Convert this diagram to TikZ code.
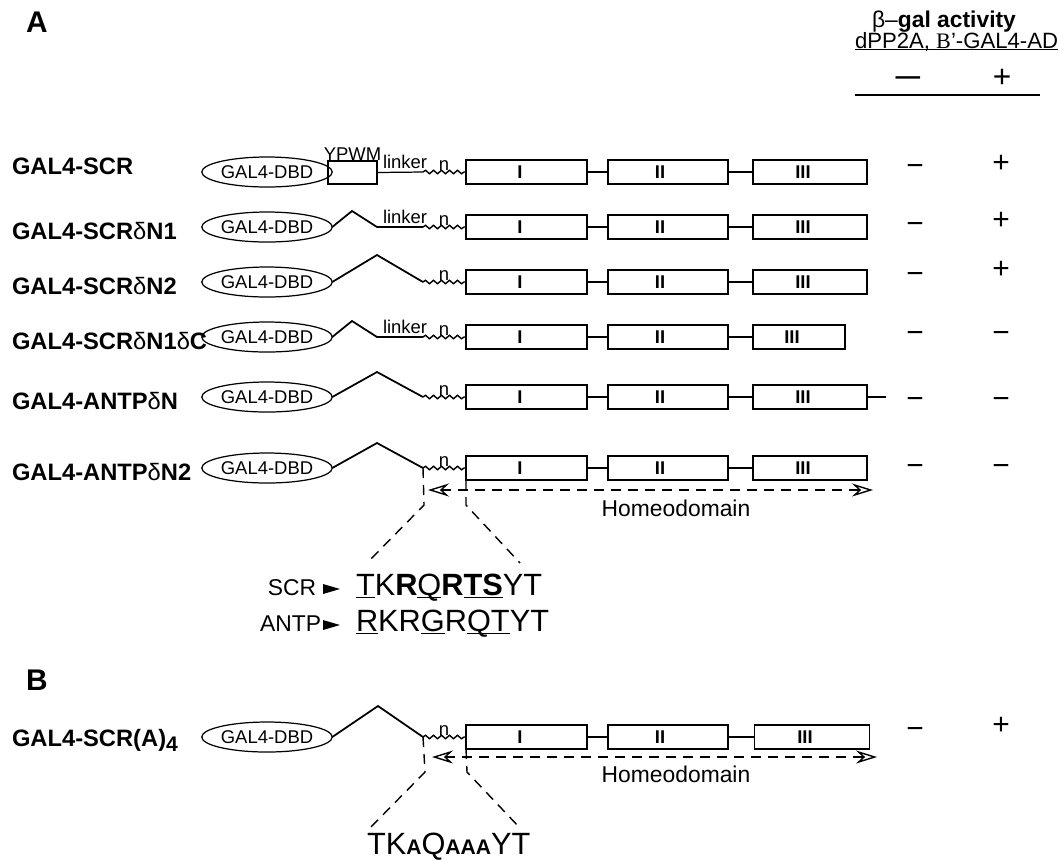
\documentclass[tikz,border=0pt]{standalone}
\usepackage{fontspec}
\setmainfont{Liberation Sans}
\newfontfamily\serifB{Liberation Serif}
\usetikzlibrary{arrows.meta,decorations.pathmorphing,shapes.geometric}
\newcommand\myfs[1]{\fontsize{#1}{#1}\selectfont}
\newcommand\myul[2][1.8pt]{\setbox0\hbox{#2}\rlap{\rule[-#1]{\wd0}{0.8pt}}#2}
\tikzset{
  every node/.style={inner sep=0pt, outer sep=0pt},
  dbd/.style={draw, ellipse, minimum width=2.4cm, minimum height=0.6cm, line width=0.7pt, font=\myfs{10.5}},
  hbox/.style={draw, rectangle, minimum height=0.48cm, line width=0.8pt},
  boxlab/.style={font=\bfseries\myfs{10.5}},
  rowlab/.style={anchor=base west, font=\bfseries\myfs{13.5}},
  smalltxt/.style={anchor=base west, font=\myfs{10.5}},
  nlab/.style={anchor=base, font=\myfs{10.5}},
  thinline/.style={line width=0.7pt},
  peakline/.style={line width=1pt},
  wave/.style={line width=0.8pt, decorate, decoration={snake, amplitude=0.035cm, segment length=0.16cm}},
  dashline/.style={line width=0.8pt, dash pattern=on 0.2cm off 0.14cm},
  hdtip/.tip={Stealth[open, length=0.42cm, width=0.26cm, inset=0.14cm, line width=0.8pt]},
  hdarrow/.style={dashline, hdtip-hdtip},
  pm/.style={anchor=base, font=\myfs{17}},
}
\newcommand\hdrow[4]{%
  \node[dbd] (#1e) at (267,#2) {GAL4-DBD};
  \node[hbox, minimum width=2.42cm] (#1I) at (526.5,#2) {};
  \node[boxlab] (#1Il) at ([xshift=-0.13cm]#1I.center) {I};
  \node[hbox, minimum width=2.40cm] (#1II) at (668,#2) {};
  \node[boxlab] (#1IIl) at ([xshift=-0.16cm]#1II.center) {II};
  \node[hbox, minimum width=#4] (#1III) at (#3,#2) {};
  \node[boxlab] (#1IIIl) at ([xshift=-0.14cm]#1III.center) {III};
  \draw[thinline] (#1I) -- (#1II);
  \draw[thinline] (#1II) -- (#1III);
  \coordinate (#1w) at (423,#2);
  \draw[wave] (#1w) -- (#1I.west);
  \node[nlab] (#1n) at (444,#2-2) {n};
}
\begin{document}
\begin{tikzpicture}[x=0.02cm, y=-0.02cm]
\useasboundingbox (0,0) rectangle (1060,860);
\fill[white] (0,0) rectangle (1060,860);

% panel labels
\node[font=\bfseries\myfs{17}] (labA) at (37,22) {A};
\node[font=\bfseries\myfs{17}] (labB) at (37,680) {B};

% header
\node[font=\myfs{13}] (hact) at (944,22) {β–\textbf{gal activity}};
\node[anchor=base, font=\myfs{12.6}] (hcons) at (956.5,48) {\myul[1.4pt]{dPP2A, {\serifB B}'-GAL4-AD}};
\node[anchor=base, font=\bfseries\myfs{14}] (hminus) at (908,84) {—};
\node[anchor=base, font=\myfs{18}] (hplus) at (1002,87) {+};
\coordinate (hl1) at (855,95);
\coordinate (hl2) at (1040,95);
\draw[thinline] (hl1) -- (hl2);

% row labels
\node[rowlab] (l1) at (12,174.5) {GAL4-SCR};
\node[rowlab] (l2) at (12,239.5) {GAL4-SCR{\mdseries δ}N1};
\node[rowlab] (l3) at (12,294.5) {GAL4-SCR{\mdseries δ}N2};
\node[rowlab] (l4) at (12,349.5) {GAL4-SCR{\mdseries δ}N1{\mdseries δ}C};
\node[rowlab] (l5) at (12,409.5) {GAL4-ANTP{\mdseries δ}N};
\node[rowlab] (l6) at (12,480.5) {GAL4-ANTP{\mdseries δ}N2};
\node[rowlab] (l7) at (12,746) {GAL4-SCR(A)\raisebox{-3pt}{\myfs{12}4}};

% rows
\hdrow{r1}{172}{810}{2.28cm}
\hdrow{r2}{227}{810}{2.28cm}
\hdrow{r3}{282}{810}{2.28cm}
\hdrow{r4}{337}{799}{1.84cm}
\hdrow{r5}{397}{810}{2.28cm}
\hdrow{r6}{468}{810}{2.28cm}
\hdrow{r7}{737}{812}{2.30cm}

% row 1: YPWM box
\node[hbox, minimum width=0.98cm, minimum height=0.46cm] (r1y) at (352.5,172.5) {};
\node[anchor=base, font=\myfs{10.5}] (r1yl) at (352.5,160) {YPWM};
\draw[thinline] (r1y.east) -- (r1w);
\node[smalltxt] (r1k) at (383,168) {linker};

% deletion peaks
\draw[peakline] (r2e.east) -- (352,211) -- (377,227) -- (r2w);
\node[smalltxt] (r2k) at (383,223) {linker};
\draw[peakline] (r3e.east) -- (377,255) -- (r3w);
\draw[peakline] (r4e.east) -- (352,321) -- (377,337) -- (r4w);
\node[smalltxt] (r4k) at (383,333) {linker};
\draw[peakline] (r5e.east) -- (377,372) -- (r5w);
\coordinate (r5end) at (886,397);
\draw[thinline] (r5III.east) -- (r5end);
\draw[peakline] (r6e.east) -- (377,443) -- (r6w);
\draw[peakline] (r7e.east) -- (378,706) -- (r7w);

% homeodomain A
\coordinate (ha1) at (428,490);
\coordinate (ha2) at (873,490);
\draw[hdarrow] (ha1) -- (ha2);
\node[font=\myfs{13}] (hdA) at (676,508) {Homeodomain};
\coordinate (da1) at (424,505);
\coordinate (da2) at (367,563);
\coordinate (db1) at (466,505);
\coordinate (db2) at (520,563);
\draw[dashline] (r6w) -- (da1) -- (da2);
\draw[dashline] (r6I.south west) -- (db1) -- (db2);

% sequences A
\node[anchor=base east, font=\myfs{13}] (scrl) at (316,595) {SCR};
\fill (323,584) -- (340,589) -- (323,594) -- cycle;
\node[anchor=base west, font=\myfs{17.5}] (scrs) at (356,595) {\myul{T}K\textbf{R}\myul{Q}\textbf{R\myul{TS}}YT};
\node[anchor=base east, font=\myfs{13}] (antpl) at (321,631) {ANTP};
\fill (323,620) -- (340,625) -- (323,630) -- cycle;
\node[anchor=base west, font=\myfs{17.5}] (antps) at (356,631) {\myul{R}KR\myul{G}R\myul{QT}YT};

% homeodomain B
\coordinate (hb1) at (432,757);
\coordinate (hb2) at (877,757);
\draw[hdarrow] (hb1) -- (hb2);
\node[font=\myfs{13}] (hdB) at (676,774) {Homeodomain};
\coordinate (dc1) at (425,772);
\coordinate (dc2) at (368,830);
\coordinate (dd1) at (467,772);
\coordinate (dd2) at (520,828);
\draw[dashline] (r7w) -- (dc1) -- (dc2);
\draw[dashline] (r7I.south west) -- (dd1) -- (dd2);
\node[anchor=base west, font=\myfs{17.5}] (bseq) at (367,854) {TK{\bfseries\myfs{12}A}Q{\bfseries\myfs{12}AAA}YT};

% activity results
\node[pm] (m1) at (915,175) {−}; \node[pm] (p1) at (1001,172) {+};
\node[pm] (m2) at (915,233) {−}; \node[pm] (p2) at (1001,229) {+};
\node[pm] (m3) at (915,283) {−}; \node[pm] (p3) at (1001,278) {+};
\node[pm] (m4) at (915,342) {−}; \node[pm] (p4) at (1001,342) {−};
\node[pm] (m5) at (915,408) {−}; \node[pm] (p5) at (1001,408) {−};
\node[pm] (m6) at (915,475) {−}; \node[pm] (p6) at (1001,475) {−};
\node[pm] (m7) at (915,738) {−}; \node[pm] (p7) at (1001,734) {+};
\end{tikzpicture}
\end{document}
